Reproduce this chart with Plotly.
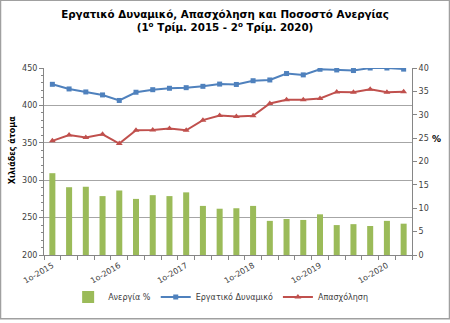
import plotly.graph_objects as go

# Quarterly figures, 1st quarter 2015 to 2nd quarter 2020
quarters = list(range(22))
tick_pos = [0, 4, 8, 12, 16, 20]
tick_text = ["1ο-2015", "1ο-2016", "1ο-2017", "1ο-2018", "1ο-2019", "1ο-2020"]

unemployment = [17.5, 14.5, 14.6, 12.6, 13.8, 12.0, 12.8, 12.6, 13.4, 10.5, 9.9,
                10.0, 10.5, 7.3, 7.7, 7.5, 8.7, 6.4, 6.6, 6.2, 7.3, 6.7]
labour_force = [428.2, 422.0, 418.0, 414.0, 406.6, 417.6, 421.0, 422.9, 423.7, 425.5, 428.5,
                428.0, 433.0, 434.0, 442.6, 440.8, 448.3, 447.4, 446.6, 450.0, 450.0, 448.5]
employment = [352.6, 360.5, 357.0, 361.4, 349.0, 366.7, 367.0, 369.0, 366.7, 380.3, 386.4,
              385.0, 386.0, 402.6, 407.5, 407.5, 409.2, 418.0, 417.6, 421.5, 417.6, 418.4]

FONT = "DejaVu Sans"
TXT = "#404040"
AX = "#868686"

fig = go.Figure()
fig.add_trace(go.Bar(x=quarters, y=unemployment, name="Ανεργία %",
                     marker=dict(color="#9BBB59", line=dict(width=0)), yaxis="y"))
fig.add_trace(go.Scatter(x=quarters, y=labour_force, name="Εργατικό Δυναμικό",
                         mode="lines+markers", yaxis="y2",
                         line=dict(color="#4F81BD", width=2),
                         marker=dict(symbol="square", size=5, color="#4F81BD")))
fig.add_trace(go.Scatter(x=quarters, y=employment, name="Απασχόληση",
                         mode="lines+markers", yaxis="y2",
                         line=dict(color="#C0504D", width=2),
                         marker=dict(symbol="triangle-up", size=6, color="#C0504D")))

fig.update_layout(
    width=450, height=323,
    margin=dict(l=44, r=38, t=68, b=66),
    paper_bgcolor="white", plot_bgcolor="white",
    font=dict(family=FONT, size=8, color=TXT),
    bargap=0.64,
    showlegend=True,
    title=dict(text="<b>Εργατικό Δυναμικό, Απασχόληση και Ποσοστό Ανεργίας<br>"
                    "(1<sup>ο</sup> Τρίμ. 2015 - 2<sup>ο</sup> Τρίμ. 2020)</b>",
               x=0.5, xanchor="center", y=0.945, yanchor="top",
               font=dict(family=FONT, size=10.3, color="black")),
    legend=dict(orientation="h", x=0.48, xanchor="center", y=-0.225, yanchor="middle",
                font=dict(family=FONT, size=8, color=TXT), traceorder="normal",
                itemwidth=30),
    xaxis=dict(range=[-0.5, 21.5], tickmode="array", tickvals=tick_pos, ticktext=tick_text,
               tickangle=-30, ticks="", showgrid=False, zeroline=False,
               showline=True, linecolor=AX, linewidth=1,
               tickfont=dict(size=8, color=TXT), ticklabelstandoff=2,
               minor=dict(tick0=-0.5, dtick=1, ticks="outside", ticklen=4,
                          tickcolor=AX, showgrid=False)),
    yaxis=dict(side="right", range=[0, 40], dtick=5, showgrid=False, zeroline=False,
               showline=True, linecolor=AX, linewidth=1, ticks="outside", ticklen=4,
               tickcolor=AX, tickfont=dict(size=8, color=TXT)),
    yaxis2=dict(side="left", overlaying="y", range=[200, 450], dtick=50,
                showgrid=True, gridcolor="#A6A6A6", gridwidth=1, zeroline=False,
                showline=True, linecolor=AX, linewidth=1, ticks="outside", ticklen=4,
                tickcolor=AX, tickfont=dict(size=8, color=TXT),
                minor=dict(dtick=10, ticks="outside", ticklen=2, tickcolor=AX,
                           showgrid=False)),
)

fig.add_annotation(text="<b>Χιλιάδες άτομα</b>", textangle=-90, xref="paper", yref="paper",
                   x=-32 / 368, y=0.56, xanchor="center", yanchor="middle", showarrow=False,
                   font=dict(family=FONT, size=8, color="black"))
fig.add_annotation(text="<b>%</b>", xref="paper", yref="paper",
                   x=(437 - 44) / 368, y=(257 - 140) / 189, xanchor="center", yanchor="middle",
                   showarrow=False, font=dict(family=FONT, size=9, color="black"))

# Thin frame around the whole chart area
fig.add_shape(type="rect", xref="paper", yref="paper",
              x0=-43.5 / 368, x1=405.5 / 368, y0=-64.5 / 189, y1=257.5 / 189,
              line=dict(color="#A0A0A0", width=1.5), fillcolor="rgba(0,0,0,0)", layer="below")

fig.write_html("out.html")
